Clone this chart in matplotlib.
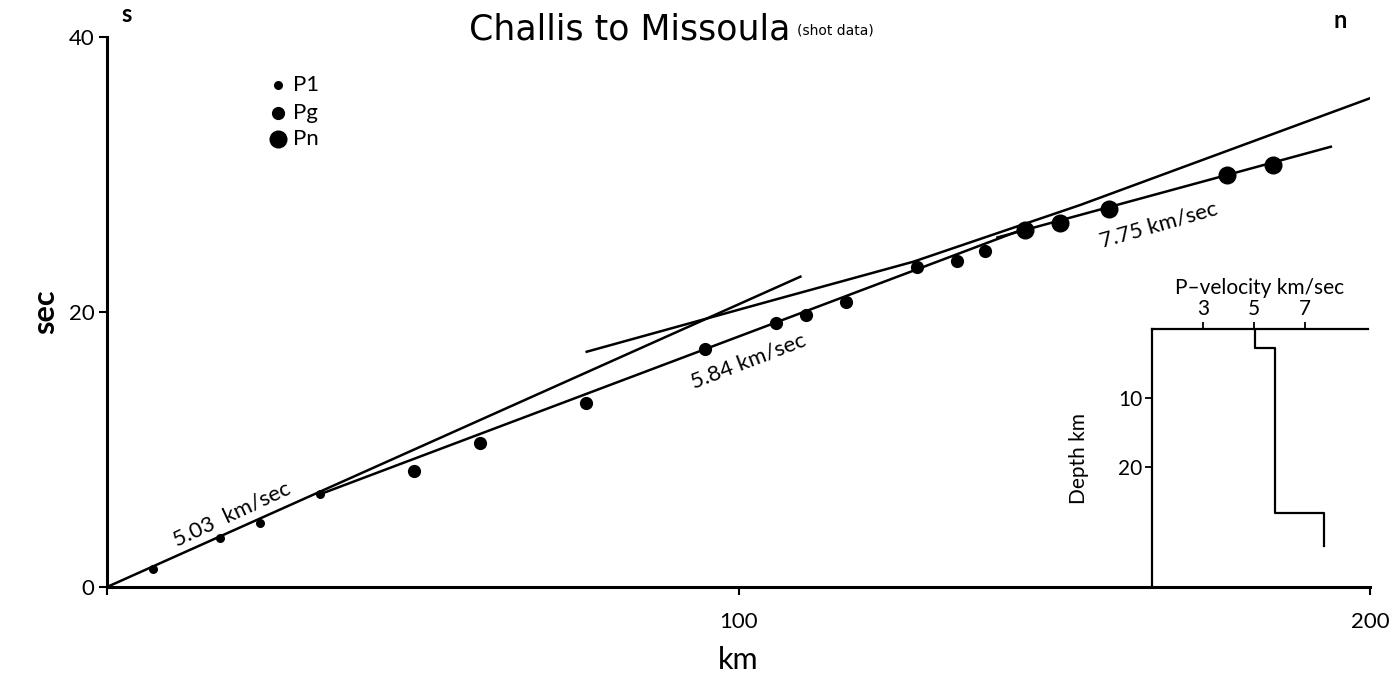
import matplotlib
matplotlib.use('Agg')
import matplotlib.pyplot as plt
import numpy as np

plt.rcParams['font.family'] = ['Lato', 'DejaVu Sans']

# travel time picks (km, sec)
p1_km = [7.3, 17.9, 24.2, 33.7]
p1_sec = [1.29, 3.54, 4.63, 6.74]
pg_km = [48.6, 59.0, 75.9, 94.7, 105.9, 110.7, 117.1, 128.2, 134.6, 139.0]
pg_sec = [8.46, 10.45, 13.4, 17.29, 19.18, 19.78, 20.75, 23.3, 23.7, 24.46]
pn_km = [145.4, 150.9, 158.7, 177.4, 184.7]
pn_sec = [25.96, 26.5, 27.47, 29.96, 30.69]

# fitted segments
p1_line_km, p1_line_sec = [0, 109.8], [0, 22.57]
pg_line_km, pg_line_sec = [33.7, 145.0], [6.74, 26.0]
pn_line_km, pn_line_sec = [141.0, 193.8], [25.42, 32.02]
rev_line_km = [75.96, 106.6, 127.7, 154.1, 202.8]
rev_line_sec = [17.11, 21.0, 23.66, 27.78, 36.02]

# velocity model
vel = [5.03, 5.03, 5.84, 5.84, 7.75, 7.75]
depth = [0, 2.7, 2.7, 26.7, 26.7, 31.5]

W, H = 1399, 675
fig = plt.figure(figsize=(W / 100, H / 100), dpi=100)
ax = fig.add_axes([107 / W, 1 - 587 / H, (1370 - 107) / W, (587 - 37) / H])

lw = 1.8
ax.plot(p1_line_km, p1_line_sec, 'k-', lw=lw)
ax.plot(pg_line_km, pg_line_sec, 'k-', lw=lw)
ax.plot(pn_line_km, pn_line_sec, 'k-', lw=lw)
ax.plot(rev_line_km, rev_line_sec, 'k-', lw=lw)
ax.plot(p1_km, p1_sec, 'ko', ms=6.5, mec='none')
ax.plot(pg_km, pg_sec, 'ko', ms=9.5, mec='none')
ax.plot(pn_km, pn_sec, 'ko', ms=13, mec='none')

ax.set_xlim(0, 200)
ax.set_ylim(0, 40)
ax.set_xticks([0, 100, 200])
ax.set_xticklabels(['', '100', '200'])
ax.set_yticks([0, 20, 40])
for s in ['top', 'right']:
    ax.spines[s].set_visible(False)
for s in ['left', 'bottom']:
    ax.spines[s].set_linewidth(2.2)
ax.tick_params(direction='out', length=6, width=1.5, labelsize=16, pad=3)
ax.tick_params(axis='x', pad=12)
ax.set_xlabel('km', fontsize=22, labelpad=10)
ax.set_ylabel('sec', fontsize=22, fontweight='bold', labelpad=7)

# slope labels
ax.text(19.7, 5.3, '5.03  km/sec', fontsize=16, rotation=25, ha='center', va='center')
ax.text(101.5, 16.4, '5.84 km/sec', fontsize=16, rotation=21, ha='center', va='center')
ax.text(166.5, 26.3, '7.75 km/sec', fontsize=16, rotation=16, ha='center', va='center')

# key
key_y = [36.5, 34.5, 32.6]
key_ms = [6.5, 9.5, 13]
key_txt = ['P1', 'Pg', 'Pn']
for yk, m, t in zip(key_y, key_ms, key_txt):
    ax.plot([27.1], [yk], 'ko', ms=m, mec='none', clip_on=False)
    ax.text(29.5, yk, t, fontsize=16, va='center', ha='left')

fig.text(790 / W, 1 - 29 / H, 'Challis to Missoula', fontsize=25, ha='right', va='center',
         family='DejaVu Sans')
fig.text(797 / W, 1 - 30 / H, '(shot data)', fontsize=10, ha='left', va='center',
         family='DejaVu Sans')
fig.text(127 / W, 1 - 14 / H, 's', fontsize=17, fontweight='bold', ha='center', va='center')
fig.text(1340 / W, 1 - 20 / H, 'n', fontsize=17, fontweight='bold', ha='center', va='center')

# inset: velocity-depth model
ins = fig.add_axes([1152 / W, 1 - 587 / H, (1368 - 1152) / W, (587 - 329) / H])
ins.patch.set_alpha(0)
ins.plot(vel, depth, 'k-', lw=1.6)
ins.set_xlim(1, 9.47)
ins.set_ylim(37.4, 0)
ins.xaxis.tick_top()
ins.xaxis.set_label_position('top')
ins.set_xticks([3, 5, 7])
ins.set_yticks([10, 20])
for s in ['right', 'bottom']:
    ins.spines[s].set_visible(False)
for s in ['left', 'top']:
    ins.spines[s].set_linewidth(1.6)
ins.tick_params(direction='out', length=5, width=1.3, labelsize=15, pad=2)
ins.set_xlabel('P\u2013velocity km/sec', fontsize=15, labelpad=4)
ins.set_ylabel('Depth km', fontsize=15, labelpad=21)

fig.savefig('out.png', dpi=100)
